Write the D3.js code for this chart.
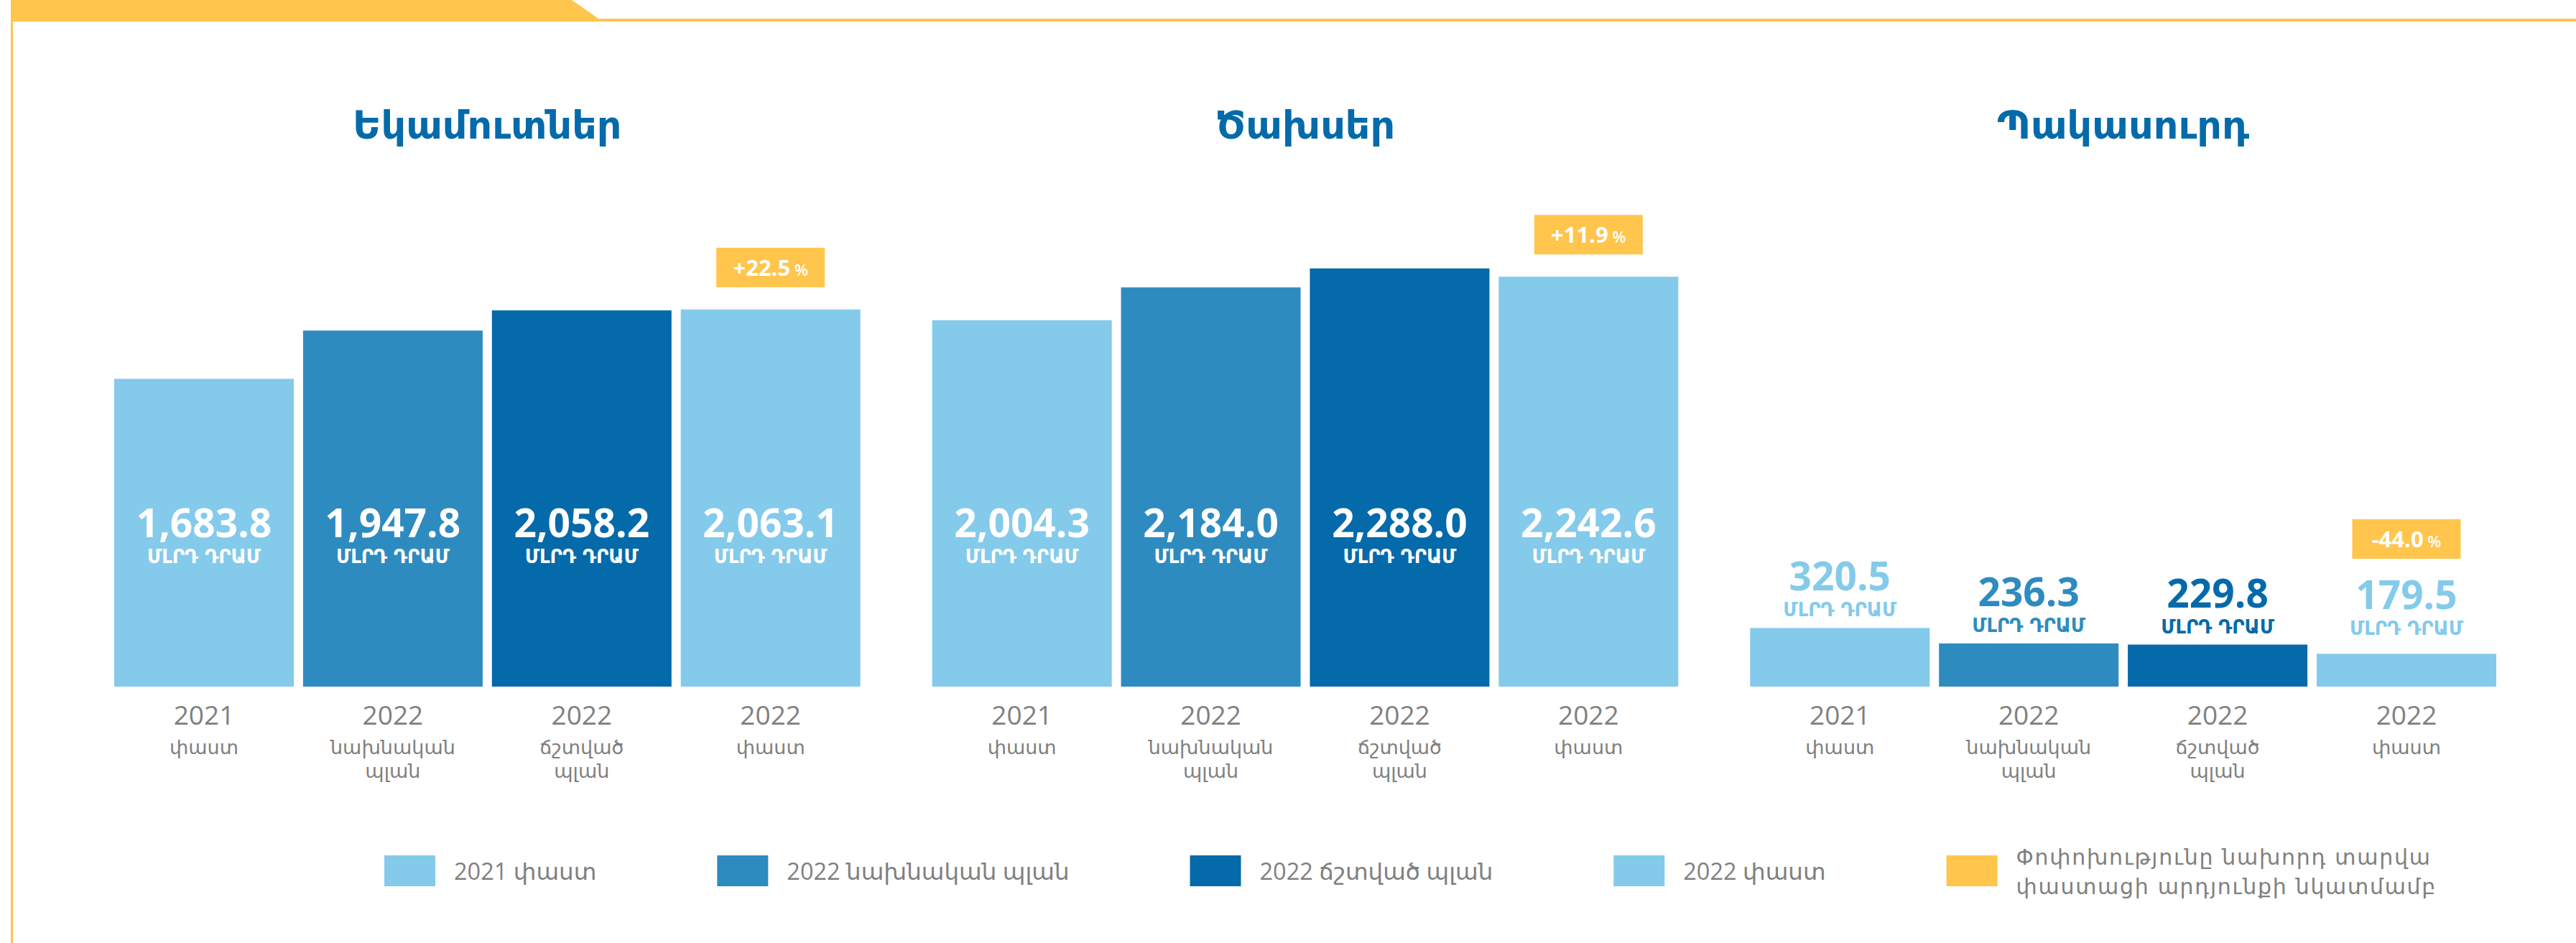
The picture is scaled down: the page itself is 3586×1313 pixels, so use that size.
<!DOCTYPE html>
<html><head><meta charset="utf-8">
<script src="https://cdn.jsdelivr.net/npm/d3@7"></script>
<style>
html,body{margin:0;padding:0;background:#fff;}
svg{display:block;}
</style></head>
<body><svg id="chart" width="3586" height="1313"></svg>
<script>
// ---------- DATA ----------
const groups = ["Եկամուտներ", "Ծախսեր", "Պակասուրդ"];
const series = ["2021 փաստ", "2022 նախնական պլան", "2022 ճշտված պլան", "2022 փաստ"];
const catYears = ["2021", "2022", "2022", "2022"];
const catDesc = [["փաստ"], ["նախնական", "պլան"], ["ճշտված", "պլան"], ["փաստ"]];
const revenues = [1683.8, 1947.8, 2058.2, 2063.1];
const expenditures = [2004.3, 2184.0, 2288.0, 2242.6];
const deficit = [320.5, 236.3, 229.8, 179.5];
const changes = ["+22.5", "+11.9", "-44.0"];
const unitLabel = "ՄԼՐԴ ԴՐԱՄ";
const changeLegend = ["Փոփոխությունը նախորդ տարվա", "փաստացի արդյունքի նկատմամբ"];

// ---------- SETUP ----------
const W = 3586, H = 1313;
const svg = d3.select("#chart");
const palette = ["#84CAEB", "#2E8BBF", "#046AAA", "#84CAEB"];
const yellow = "#FFC54C";
const grey = "#808080";
const titleBlue = "#046AAA";
const numFont = "'Open Sans', 'DejaVu Sans', sans-serif";
const armFont = "'DejaVu Sans', sans-serif";

// frame decoration
svg.append("path").attr("d", "M15,0 L796,0 L836,28 L15,28 Z").attr("fill", yellow);
svg.append("rect").attr("x", 15).attr("y", 26).attr("width", W - 15).attr("height", 4).attr("fill", yellow);
svg.append("rect").attr("x", 15).attr("y", 0).attr("width", 3).attr("height", H).attr("fill", yellow);

const groupData = groups.map((g, gi) => ({
  name: g,
  values: [revenues, expenditures, deficit][gi],
  change: changes[gi]
}));

const x0 = d3.scaleBand().domain(groups).range([159, 3475]).paddingInner(0.0878);
const x1 = d3.scaleBand().domain(d3.range(series.length)).range([0, x0.bandwidth()]).paddingInner(0.049);
const y = d3.scaleLinear().domain([0, 2400]).range([956, 956 - 2400 * 0.2545]);
const fmt = d3.format(",.1f");

const g = svg.selectAll("g.grp").data(groupData).join("g")
  .attr("class", "grp")
  .attr("transform", d => `translate(${x0(d.name)},0)`);

// titles
g.append("text")
  .attr("x", x0.bandwidth() / 2)
  .attr("y", 193)
  .attr("text-anchor", "middle")
  .attr("font-family", armFont)
  .attr("font-weight", "bold")
  .attr("font-size", 54)
  .attr("fill", titleBlue)
  .text(d => d.name);

// bars
const cells = g.selectAll("g.cell").data(d => d.values.map((v, i) => ({ v, i, change: d.change }))).join("g")
  .attr("class", "cell")
  .attr("transform", d => `translate(${x1(d.i)},0)`);

cells.append("rect")
  .attr("x", 0)
  .attr("y", d => y(d.v))
  .attr("width", x1.bandwidth())
  .attr("height", d => y(0) - y(d.v))
  .attr("fill", d => palette[d.i]);

cells.each(function (d) {
  const sel = d3.select(this);
  const top = y(d.v);
  const inside = top < 700;
  const cx = x1.bandwidth() / 2;
  let valueY, unitY, fill;
  if (inside) {
    valueY = y(0) - 208; unitY = y(0) - 172; fill = "#fff";
  } else {
    unitY = Math.min(top - 16, 884); valueY = unitY - 36; fill = palette[d.i];
  }
  sel.append("text")
    .attr("x", cx).attr("y", valueY)
    .attr("text-anchor", "middle")
    .attr("font-family", numFont).attr("font-weight", 700).attr("font-size", 55)
    .attr("fill", fill)
    .text(fmt(d.v));
  sel.append("text")
    .attr("x", cx).attr("y", unitY)
    .attr("text-anchor", "middle")
    .attr("font-family", armFont).attr("font-weight", "bold").attr("font-size", 26)
    .attr("fill", fill)
    .text(unitLabel);

  // change badge on the last series
  if (d.i === series.length - 1) {
    const bottom = (inside ? top : valueY - 39) - 31;
    const bw = 151, bh = 55;
    sel.append("rect")
      .attr("x", cx - bw / 2).attr("y", bottom - bh)
      .attr("width", bw).attr("height", bh)
      .attr("fill", yellow);
    const t = sel.append("text")
      .attr("x", cx).attr("y", bottom - bh + 39)
      .attr("text-anchor", "middle")
      .attr("font-family", numFont).attr("fill", "#fff");
    t.append("tspan").attr("font-weight", 700).attr("font-size", 31).text(d.change);
    t.append("tspan").attr("font-weight", 600).attr("font-size", 22).text(" %");
  }

  // category labels
  sel.append("text")
    .attr("x", cx).attr("y", 1009)
    .attr("text-anchor", "middle")
    .attr("font-family", numFont).attr("font-weight", 400).attr("font-size", 37)
    .attr("fill", grey)
    .text(catYears[d.i]);
  catDesc[d.i].forEach((line, li) => {
    sel.append("text")
      .attr("x", cx).attr("y", 1050 + li * 33)
      .attr("text-anchor", "middle")
      .attr("font-family", armFont).attr("font-size", 27)
      .attr("fill", grey)
      .text(line);
  });
});

// ---------- LEGEND ----------
const legend = svg.append("g").attr("class", "legend");
let lx = 535;
const swW = 71, swH = 43, swY = 1191, textGap = 97, itemGap = 168;
series.forEach((s, i) => {
  legend.append("rect").attr("x", lx).attr("y", swY).attr("width", swW).attr("height", swH).attr("fill", palette[i]);
  const t = legend.append("text")
    .attr("x", lx + textGap).attr("y", 1225)
    .attr("font-family", numFont).attr("font-size", 32.5)
    .attr("fill", grey)
    .text(s);
  lx += textGap + t.node().getComputedTextLength() + itemGap;
});
legend.append("rect").attr("x", lx).attr("y", swY).attr("width", swW).attr("height", swH).attr("fill", yellow);
const changeTargetWidth = 578;
changeLegend.forEach((line, li) => {
  const t = legend.append("text")
    .attr("x", lx + textGap).attr("y", 1204 + li * 41)
    .attr("font-family", armFont).attr("font-size", 30)
    .attr("fill", grey)
    .text(line);
  if (li === 0) {
    const len = t.node().getComputedTextLength();
    const ls = Math.max(0, (changeTargetWidth - len) / line.length);
    legend.selectAll("text.chg").attr("letter-spacing", ls);
    t.attr("letter-spacing", ls);
    legend.attr("data-ls", ls);
  } else {
    t.attr("letter-spacing", legend.attr("data-ls"));
  }
});
</script>
</body></html>
